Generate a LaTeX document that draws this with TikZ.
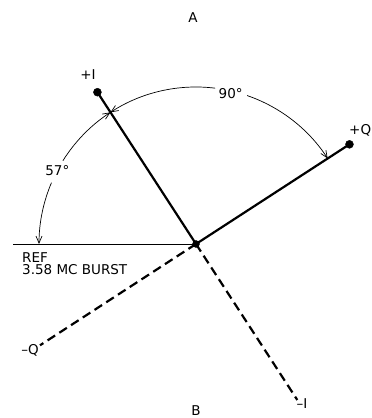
\documentclass[tikz,border=0pt]{standalone}
\usepackage{fontspec}
\setmainfont{DejaVu Sans}
\usetikzlibrary{arrows.meta, calc}

\tikzset{
  vec/.style={line width=2.2pt, black},
  negvec/.style={line width=2.2pt, black, dash pattern=on 9pt off 5pt},
  anglearc/.style={line width=0.7pt},
  lbl/.style={font=\fontsize{13.5}{12.5}\selectfont, inner sep=0pt},
}

\begin{document}
\begin{tikzpicture}[x=1pt, y=1pt, >={Straight Barb[length=7pt, width=6pt]}]
    \useasboundingbox (0,0) rectangle (372,418);

    % origin and phasor tips
    \coordinate (O) at (196,174);
    \coordinate (pI) at ($(O)+(123:181)$);
    \coordinate (pQ) at ($(O)+(33:183)$);
    \coordinate (nQ) at ($(O)+(213:186)$);
    \coordinate (nI) at ($(O)+(303:186)$);
    \coordinate (refend) at (13,174);

    % labels
    \node[lbl] (lA) at (193,400) {A};
    \node[lbl, anchor=south] (lB) at (196,2) {B};
    \node[lbl] (lpI) at (88,343) {+I};
    \node[lbl, anchor=west] (lpQ) at (349,288) {+Q};
    \node[lbl, anchor=east] (lnQ) at (39,68) {–Q};
    \node[lbl] (lnI) at (302,14) {–I};
    \node[lbl] (l90) at ($(O)+(77:154)$) {90°};
    \node[lbl] (l57) at ($(O)+(152:157)$) {57°};
    \node[lbl, anchor=north west, align=left] (lref) at (22,166) {REF\\3.58 MC BURST};

    % reference line
    \draw[line width=0.8pt] (refend) -- (O);

    % phasors
    \draw[vec] (O) -- (pI);
    \draw[vec] (O) -- (pQ);
    \draw[negvec] (O) -- (nQ);
    \draw[negvec] (O) -- (nI);
    \filldraw (O) circle (3.5pt);
    \filldraw (pI) circle (4pt);
    \filldraw (pQ) circle (4pt);

    % angle arcs
    \draw[anglearc, ->] ($(O)+(71:157)$) arc[start angle=71, end angle=33, radius=157];
    \draw[anglearc, ->] ($(O)+(83:157)$) arc[start angle=83, end angle=123, radius=157];
    \draw[anglearc, ->] ($(O)+(148:157)$) arc[start angle=148, end angle=123, radius=157];
    \draw[anglearc, ->] ($(O)+(157:157)$) arc[start angle=157, end angle=180, radius=157];
\end{tikzpicture}
\end{document}
